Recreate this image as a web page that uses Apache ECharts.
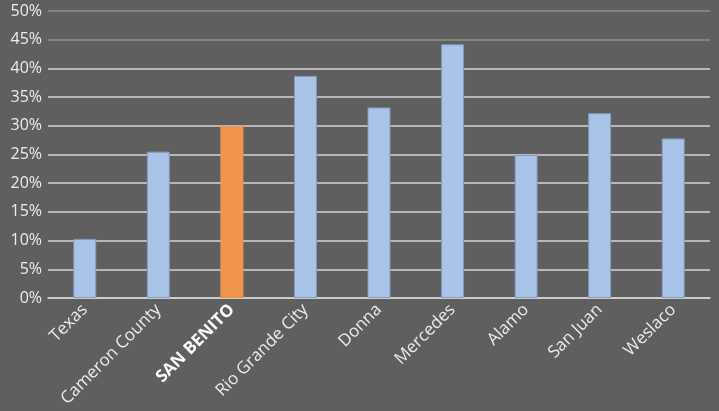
<!DOCTYPE html>
<html>
<head>
<meta charset="UTF-8">
<title></title>
<script src="https://cdn.jsdelivr.net/npm/echarts@6/dist/echarts.min.js"></script>
<style>
body,html{ padding:0px; margin:0px; background:#5f5f5f;}
#chart_box{ width:719px; height:411px; }
</style>
</head>
<body>
<div id="chart_box"></div>
<script type="text/javascript">
var categories = ['Texas', 'Cameron County', 'SAN BENITO', 'Rio Grande City', 'Donna', 'Mercedes', 'Alamo', 'San Juan', 'Weslaco'];
var values = [10.3, 25.5, 29.9, 38.7, 33.2, 44.2, 24.9, 32.2, 27.8];
var highlight = 'SAN BENITO';

var myChart = echarts.init(document.getElementById('chart_box'));

var option = {
    backgroundColor: '#5f5f5f',
    animation: false,
    grid: { left: 48, right: 9, top: 11, bottom: 113 },
    xAxis: {
        type: 'category',
        data: categories,
        axisTick: { show: false },
        axisLine: { lineStyle: { color: '#d4d4d4', width: 1.5 } },
        axisLabel: {
            rotate: 45,
            interval: 0,
            margin: 9,
            color: '#ececec',
            fontFamily: 'Open Sans',
            fontSize: 17,
            formatter: function (v) {
                return v == highlight ? '{hl|' + v + '}' : v;
            },
            rich: {
                hl: { color: '#ffffff', fontWeight: 'bold', fontFamily: 'Open Sans', fontSize: 17 }
            }
        }
    },
    yAxis: {
        type: 'value',
        min: 0,
        max: 50,
        interval: 5,
        axisLine: { show: false },
        axisTick: { show: false },
        axisLabel: {
            margin: 6,
            color: '#ececec',
            fontFamily: 'Open Sans',
            fontSize: 16,
            formatter: '{value}%'
        },
        splitLine: {
            lineStyle: {
                width: 1.5,
                color: ['#d4d4d4', '#d4d4d4', '#d4d4d4', '#d4d4d4', '#d4d4d4', '#d4d4d4',
                        '#d4d4d4', '#d4d4d4', '#d4d4d4', '#8e8e8e', '#8e8e8e']
            }
        }
    },
    series: [{
        type: 'bar',
        barWidth: 23,
        itemStyle: { color: '#a9c4e8' },
        // orange for the highlighted town, thin outline on the rest
        data: values.map(function (v, i) {
            if (categories[i] == highlight) {
                return { value: v, itemStyle: { color: '#f0944e' } };
            }
            return { value: v, itemStyle: { borderColor: '#8399bd', borderWidth: 1 } };
        })
    }]
};

myChart.setOption(option);
</script>
</body>
</html>
